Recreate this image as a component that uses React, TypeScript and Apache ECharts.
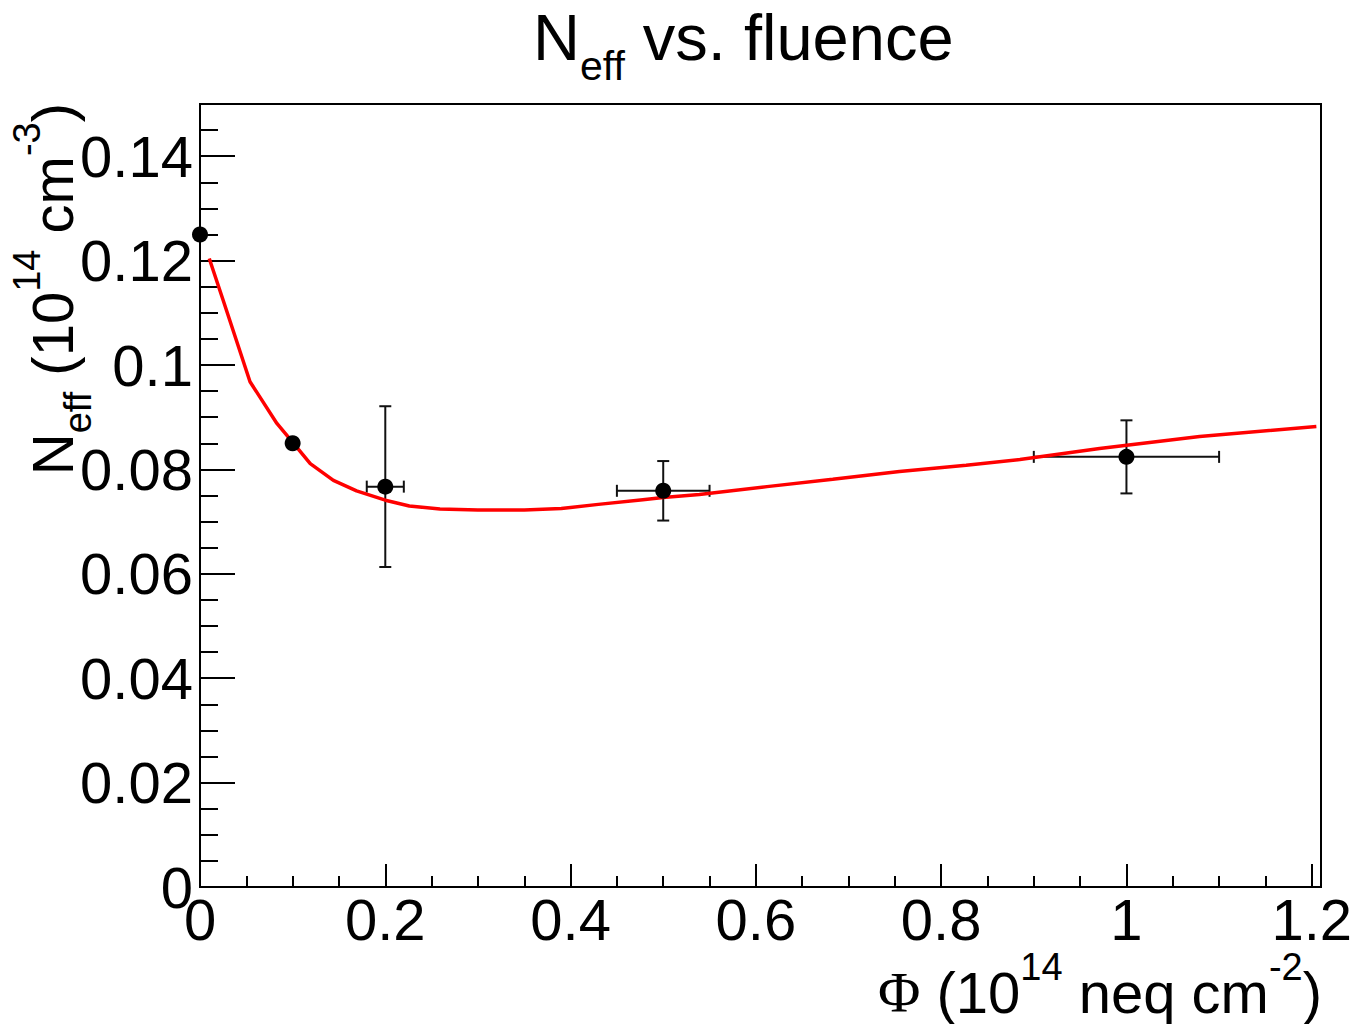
import React, { useEffect, useRef } from 'react';
import * as echarts from 'echarts';

// ---- data ----
const fluence = [0, 0.1, 0.2, 0.5, 1.0];
const neff = [0.125, 0.085, 0.0767, 0.0759, 0.0824];
const fluenceErr = [0, 0, 0.02, 0.05, 0.1];
const neffErr = [0, 0, 0.0154, 0.0057, 0.007];

const fitX = [0.01, 0.025, 0.054, 0.083, 0.101, 0.119, 0.144, 0.169, 0.2, 0.226, 0.259, 0.3, 0.35, 0.39, 0.43, 0.478, 0.5, 0.539, 0.612, 0.683, 0.755, 0.827, 0.885, 0.971, 1.079, 1.205];
const fitY = [0.1204, 0.1124, 0.0968, 0.0888, 0.085, 0.0811, 0.0779, 0.0759, 0.0741, 0.073, 0.0724, 0.0722, 0.0722, 0.0725, 0.0733, 0.0742, 0.0746, 0.0752, 0.0767, 0.0781, 0.0796, 0.0808, 0.0819, 0.084, 0.0863, 0.0882];

// axis ranges / tick steps
const X_MIN = 0, X_MAX = 1.21, X_MAJOR = 0.2, X_MINOR = 0.05;
const Y_MIN = 0, Y_MAX = 0.15, Y_MAJOR = 0.02, Y_MINOR = 0.005;

// texts
const TITLE = [
  { text: 'N', sub: 0 },
  { text: 'eff', sub: 1 },
  { text: ' vs. fluence', sub: 0 },
];
const X_TITLE = [
  { text: 'Φ', sub: 0, serif: true },
  { text: ' (10', sub: 0 },
  { text: '14', sub: -1 },
  { text: ' neq cm', sub: 0 },
  { text: '-2', sub: -1 },
  { text: ')', sub: 0 },
];
const Y_TITLE = [
  { text: 'N', sub: 0 },
  { text: 'eff', sub: 1 },
  { text: ' (10', sub: 0 },
  { text: '14', sub: -1 },
  { text: ' cm', sub: 0 },
  { text: '-3', sub: -1 },
  { text: ')', sub: 0 },
];

const SANS = '"Liberation Sans", Arial, Helvetica, sans-serif';
const SERIF = '"Liberation Serif", "Times New Roman", serif';

type Frag = { text: string; sub: number; serif?: boolean };

function buildText(frags: Frag[], size: number, small: number, subDy: number, supDy: number, anchor: 'left' | 'right', ax: number, baseline: number) {
  const ctx = document.createElement('canvas').getContext('2d')!;
  const items = frags.map((f) => {
    const fs = f.sub === 0 ? size : small;
    const fam = f.serif ? SERIF : SANS;
    ctx.font = `${fs}px ${fam}`;
    const w = ctx.measureText(f.text).width;
    const dy = f.sub === 1 ? subDy : f.sub === -1 ? -supDy : 0;
    return { f, fs, fam, w, dy };
  });
  const total = items.reduce((s, it) => s + it.w, 0);
  let x = anchor === 'left' ? ax : ax - total;
  return items.map((it) => {
    const el = {
      type: 'text',
      x,
      y: baseline + it.dy - 0.3465 * it.fs,
      silent: true,
      style: {
        text: it.f.text,
        fontSize: it.fs,
        fontFamily: it.fam,
        fill: '#000',
        align: 'left',
        verticalAlign: 'middle',
      },
    };
    x += it.w;
    return el;
  });
}

export default function App() {
  const ref = useRef<HTMLDivElement>(null);
  useEffect(() => {
    if (!ref.current) return;
    const chart = echarts.init(ref.current, undefined, { renderer: 'svg' });

    const points = fluence.map((x, i) => [x, neff[i]]);
    const errData = fluence.map((x, i) => [x, neff[i], fluenceErr[i], neffErr[i]]);
    const fitData = fitX.map((x, i) => [x, fitY[i]]);

    const tickStyle = { color: '#000', width: 2 };
    const labelStyle = { fontSize: 58, fontFamily: SANS, color: '#000' };

    const option: any = {
      animation: false,
      backgroundColor: '#fff',
      grid: {
        left: 200, top: 104, width: 1121, height: 783,
        show: true, borderColor: '#000', borderWidth: 2, backgroundColor: 'transparent',
        containLabel: false, outerBoundsMode: 'none',
      },
      xAxis: [
        {
          type: 'value', position: 'bottom', min: X_MIN, max: X_MAX, interval: X_MAJOR,
          axisLine: { show: true, onZero: false, lineStyle: tickStyle },
          axisTick: { show: true, inside: true, length: 23, lineStyle: tickStyle },
          axisLabel: { ...labelStyle, margin: 3, showMaxLabel: false, showMinLabel: true },
          splitLine: { show: false },
        },
        {
          type: 'value', position: 'bottom', min: X_MIN, max: X_MAX, interval: X_MINOR,
          axisLine: { show: false, onZero: false },
          axisTick: { show: true, inside: true, length: 11, lineStyle: tickStyle },
          axisLabel: { show: false },
          splitLine: { show: false },
        },
      ],
      yAxis: [
        {
          type: 'value', position: 'left', min: Y_MIN, max: Y_MAX, interval: Y_MAJOR,
          axisLine: { show: true, onZero: false, lineStyle: tickStyle },
          axisTick: { show: true, inside: true, length: 35, lineStyle: tickStyle },
          axisLabel: { ...labelStyle, margin: 7, showMaxLabel: false, showMinLabel: true },
          splitLine: { show: false },
        },
        {
          type: 'value', position: 'left', min: Y_MIN, max: Y_MAX, interval: Y_MINOR,
          axisLine: { show: false, onZero: false },
          axisTick: { show: true, inside: true, length: 18, lineStyle: tickStyle },
          axisLabel: { show: false },
          splitLine: { show: false },
        },
      ],
      series: [
        {
          type: 'custom',
          name: 'errors',
          xAxisIndex: 0, yAxisIndex: 0,
          z: 2,
          data: errData,
          encode: { x: 0, y: 1 },
          renderItem: (params: any, api: any) => {
            const x = api.value(0), y = api.value(1), ex = api.value(2), ey = api.value(3);
            const children: any[] = [];
            const st = { stroke: '#111', lineWidth: 2 };
            const cap = 6;
            if (ey > 0) {
              const top = api.coord([x, y + ey]);
              const bot = api.coord([x, y - ey]);
              children.push({ type: 'line', shape: { x1: top[0], y1: top[1], x2: bot[0], y2: bot[1] }, style: st });
              children.push({ type: 'line', shape: { x1: top[0] - cap, y1: top[1], x2: top[0] + cap, y2: top[1] }, style: st });
              children.push({ type: 'line', shape: { x1: bot[0] - cap, y1: bot[1], x2: bot[0] + cap, y2: bot[1] }, style: st });
            }
            if (ex > 0) {
              const l = api.coord([x - ex, y]);
              const r = api.coord([x + ex, y]);
              children.push({ type: 'line', shape: { x1: l[0], y1: l[1], x2: r[0], y2: r[1] }, style: st });
              children.push({ type: 'line', shape: { x1: l[0], y1: l[1] - cap, x2: l[0], y2: l[1] + cap }, style: st });
              children.push({ type: 'line', shape: { x1: r[0], y1: r[1] - cap, x2: r[0], y2: r[1] + cap }, style: st });
            }
            return { type: 'group', children };
          },
        },
        {
          type: 'line',
          name: 'fit',
          xAxisIndex: 0, yAxisIndex: 0,
          z: 3,
          data: fitData,
          showSymbol: false,
          symbol: 'none',
          smooth: false,
          lineStyle: { color: '#ff0000', width: 3.5, opacity: 1 },
          silent: true,
        },
        {
          type: 'scatter',
          name: 'data',
          xAxisIndex: 0, yAxisIndex: 0,
          z: 4,
          data: points,
          symbol: 'circle',
          symbolSize: 16,
          itemStyle: { color: '#000', opacity: 1 },
        },
      ],
      graphic: [
        ...buildText(TITLE, 65, 41, 20, 0, 'left', 533, 60),
        ...buildText(X_TITLE, 58, 38, 0, 33, 'right', 1322, 1013),
        {
          type: 'group',
          x: 73,
          y: 103,
          rotation: Math.PI / 2,
          children: buildText(Y_TITLE, 58, 38, 18, 33, 'right', 0, 0),
        },
      ],
    };
    chart.setOption(option);
    return () => chart.dispose();
  }, []);

  return (
    <div
      ref={ref}
      style={{ position: 'fixed', left: 0, top: 0, width: 1357, height: 1024, background: '#fff' }}
    />
  );
}
